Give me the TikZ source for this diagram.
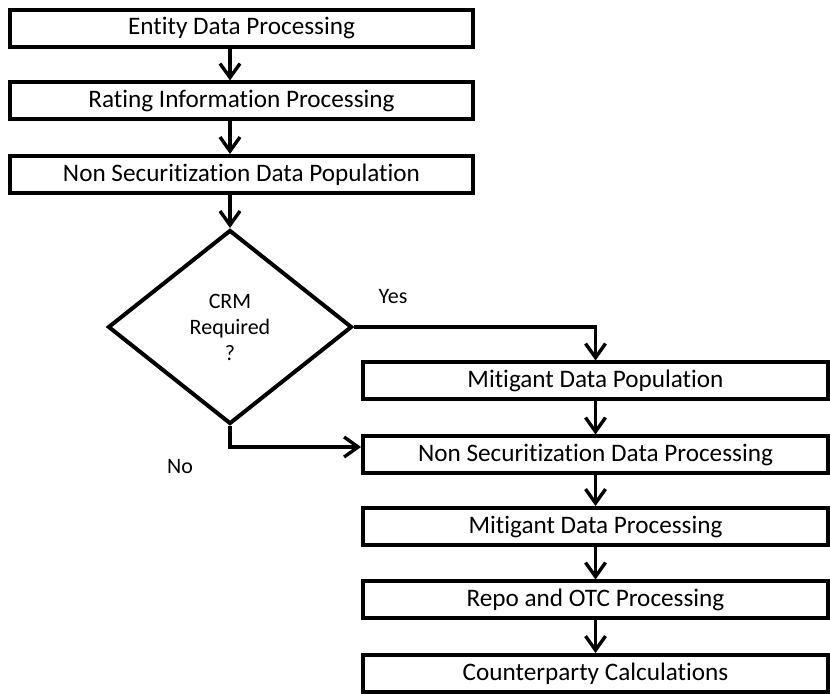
\documentclass[tikz,border=0pt]{standalone}
\usepackage{fontspec}
\setmainfont{Carlito}[Ligatures=NoCommon]
\usetikzlibrary{arrows.meta,positioning,shapes.geometric}

\begin{document}
\begin{tikzpicture}[x=0.5pt, y=-0.5pt, every node/.style={font=\fontsize{12.6}{14}\selectfont},
  procbox/.style={draw, line width=2pt, minimum height=18.5pt, inner sep=0pt, align=center},
  topbox/.style={procbox, minimum width=231.5pt},
  lowbox/.style={procbox, minimum width=232.5pt},
  flow/.style={-{Straight Barb[length=7pt,width=10pt]}, line width=1.7pt},
  small/.style={font=\fontsize{11}{13}\selectfont}]
\useasboundingbox (0,0) rectangle (830,694);
% Top chain
\node[topbox] (entity) at (241.5,28.5) {Entity Data Processing};
\node[topbox] (rating) at (241.5,101) {Rating Information Processing};
\node[topbox] (nspop) at (241.5,174.5) {Non Securitization Data Population};
% Decision
\node[draw, diamond, line width=2pt, minimum width=122pt, minimum height=97pt, inner sep=0pt, align=center, small] (crm) at (230,327) {CRM\\Required\\?};
\node[small] (yes) at (393,297) {Yes};
\node[small] (no) at (180,467) {No};
% Lower chain
\node[lowbox] (mitpop) at (595.5,381) {Mitigant Data Population};
\node[lowbox] (nsproc) at (595.5,455) {Non Securitization Data Processing};
\node[lowbox] (mitproc) at (595.5,526.5) {Mitigant Data Processing};
\node[lowbox] (repo) at (595.5,600) {Repo and OTC Processing};
\node[lowbox] (cpty) at (595.5,673.5) {Counterparty Calculations};
% Arrows
\draw[flow] (entity.south -| crm.north) -- (rating.north -| crm.north);
\draw[flow] (rating.south -| crm.north) -- (nspop.north -| crm.north);
\draw[flow] (nspop.south -| crm.north) -- (crm.north);
\draw[flow] (crm.east) -| (mitpop.north);
\draw[flow] (crm.south) |- ([yshift=4pt]nsproc.west);
\draw[flow] (mitpop) -- (nsproc);
\draw[flow] (nsproc) -- (mitproc);
\draw[flow] (mitproc) -- (repo);
\draw[flow] (repo) -- (cpty);
\end{tikzpicture}
\end{document}
